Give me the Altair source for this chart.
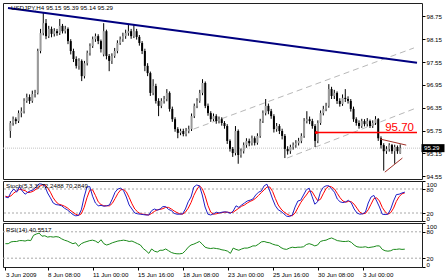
import altair as alt
import pandas as pd

# ---------------- data (USDJPY H4) ----------------
opens = [95.74, 95.95, 96.05, 96.00, 96.21, 96.26, 96.53, 96.63, 96.53, 96.71,
         96.74, 97.84, 98.31, 98.57, 98.23, 98.42, 98.29, 98.36, 98.31, 98.50,
         98.36, 98.42, 98.10, 97.84, 97.63, 97.45, 97.58, 97.18, 97.52, 97.79,
         97.97, 98.15, 98.23, 98.10, 97.75, 98.36, 97.71, 97.58, 97.71, 97.84,
         98.05, 98.15, 98.23, 98.31, 98.36, 98.23, 98.36, 98.21, 98.05, 97.84,
         97.45, 97.26, 96.74, 96.92, 96.53, 96.40, 96.53, 96.58, 96.74, 96.32,
         96.05, 95.79, 95.69, 95.74, 95.66, 95.74, 95.79, 96.13, 96.40, 96.53,
         96.74, 97.00, 96.40, 96.21, 96.05, 96.13, 96.00, 96.05, 95.95, 95.87,
         95.48, 95.27, 95.16, 95.74, 95.11, 95.21, 95.37, 95.48, 95.42, 95.55,
         95.43, 95.61, 96.00, 96.21, 96.40, 96.26, 96.13, 95.79, 95.87, 95.74,
         95.61, 95.27, 95.21, 95.32, 95.37, 95.42, 95.48, 95.61, 96.00, 96.05,
         96.00, 95.87, 95.48, 95.95, 96.21, 96.32, 96.40, 96.84, 96.66, 96.74,
         96.53, 96.45, 96.61, 96.58, 96.53, 96.32, 96.05, 95.95, 95.87, 96.00,
         95.92, 96.00, 95.87, 95.95, 96.05, 95.55, 95.37, 95.21, 95.27, 95.37,
         95.21, 95.32, 95.15]
highs = [96.00, 96.12, 96.10, 96.28, 96.36, 96.60, 96.72, 96.70, 96.80, 96.82,
         97.90, 98.42, 98.84, 98.68, 98.50, 98.48, 98.44, 98.42, 98.68, 98.55,
         98.50, 98.46, 98.15, 97.90, 97.70, 97.65, 97.62, 97.58, 97.85, 98.04,
         98.22, 98.30, 98.28, 98.14, 98.57, 98.40, 97.76, 97.78, 97.92, 98.12,
         98.22, 98.32, 98.40, 98.55, 98.42, 98.52, 98.42, 98.26, 98.10, 97.90,
         97.52, 97.30, 97.10, 96.98, 96.60, 96.60, 96.66, 96.84, 96.78, 96.38,
         96.10, 95.84, 95.80, 95.80, 95.82, 95.88, 96.20, 96.46, 96.60, 96.82,
         97.10, 97.04, 96.46, 96.26, 96.20, 96.18, 96.12, 96.10, 96.00, 95.92,
         95.52, 95.32, 95.87, 95.78, 95.28, 95.44, 95.55, 95.54, 95.62, 95.60,
         95.68, 96.06, 96.28, 96.58, 96.46, 96.32, 96.18, 95.95, 95.92, 95.80,
         95.66, 95.34, 95.38, 95.44, 95.50, 95.56, 95.68, 96.08, 96.26, 96.12,
         96.06, 95.92, 96.02, 96.28, 96.40, 96.48, 96.97, 96.90, 96.82, 96.78,
         96.60, 96.70, 96.84, 96.65, 96.58, 96.38, 96.10, 96.02, 96.06, 96.05,
         96.08, 96.04, 96.02, 96.13, 96.08, 95.60, 95.42, 95.34, 95.42, 95.40,
         95.38, 95.36, 95.39]
lows = [95.56, 95.88, 95.92, 95.95, 96.10, 96.20, 96.48, 96.45, 96.48, 96.62,
        96.70, 97.78, 98.25, 98.15, 98.18, 98.20, 98.22, 98.24, 98.26, 98.30,
        98.30, 98.02, 97.75, 97.55, 97.38, 97.35, 97.05, 97.12, 97.46, 97.72,
        97.92, 98.08, 98.02, 97.80, 97.70, 97.62, 97.31, 97.50, 97.66, 97.78,
        98.00, 98.08, 98.16, 98.24, 98.16, 98.18, 98.14, 97.98, 97.76, 97.31,
        97.18, 96.66, 96.68, 96.46, 96.13, 96.34, 96.46, 96.52, 96.25, 95.98,
        95.72, 95.55, 95.63, 95.60, 95.60, 95.68, 95.74, 96.08, 96.34, 96.48,
        96.68, 96.34, 96.14, 95.98, 96.00, 95.93, 95.94, 95.88, 95.80, 95.40,
        95.20, 95.06, 95.10, 94.88, 95.04, 95.15, 95.30, 95.34, 95.36, 95.36,
        95.38, 95.56, 95.95, 96.15, 96.18, 96.06, 95.70, 95.72, 95.66, 95.52,
        95.03, 95.12, 95.14, 95.25, 95.30, 95.36, 95.42, 95.56, 95.94, 95.92,
        95.80, 95.32, 95.42, 95.90, 96.15, 96.26, 96.35, 96.58, 96.58, 96.45,
        96.38, 96.40, 96.50, 96.46, 96.25, 95.98, 95.88, 95.80, 95.82, 95.86,
        95.86, 95.82, 95.82, 95.90, 95.48, 95.28, 94.70, 95.14, 95.20, 95.14,
        94.88, 95.14, 95.14]
closes = [95.95, 96.05, 96.00, 96.21, 96.26, 96.53, 96.63, 96.53, 96.71, 96.74,
          97.84, 98.31, 98.57, 98.23, 98.42, 98.29, 98.36, 98.31, 98.50, 98.36,
          98.42, 98.10, 97.84, 97.63, 97.45, 97.58, 97.18, 97.52, 97.79, 97.97,
          98.15, 98.23, 98.10, 97.89, 98.36, 97.71, 97.58, 97.71, 97.84, 98.05,
          98.15, 98.23, 98.31, 98.36, 98.23, 98.36, 98.21, 98.05, 97.84, 97.45,
          97.26, 96.74, 96.92, 96.53, 96.40, 96.53, 96.58, 96.74, 96.32, 96.05,
          95.79, 95.69, 95.74, 95.66, 95.74, 95.79, 96.13, 96.40, 96.53, 96.74,
          97.00, 96.40, 96.21, 96.05, 96.13, 96.00, 96.05, 95.95, 95.87, 95.48,
          95.27, 95.16, 95.74, 95.11, 95.21, 95.37, 95.48, 95.42, 95.55, 95.43,
          95.61, 96.00, 96.21, 96.40, 96.26, 96.13, 95.79, 95.87, 95.74, 95.61,
          95.27, 95.21, 95.32, 95.37, 95.42, 95.48, 95.61, 96.00, 96.05, 96.00,
          95.87, 95.48, 95.95, 96.21, 96.32, 96.40, 96.84, 96.66, 96.74, 96.53,
          96.45, 96.61, 96.58, 96.53, 96.32, 96.05, 95.95, 95.87, 96.00, 95.92,
          96.00, 95.87, 95.95, 96.05, 95.55, 95.37, 95.21, 95.27, 95.37, 95.21,
          95.32, 95.21, 95.29]

stoch_k = [60, 58, 72, 80, 72, 86, 75, 67, 72, 76, 78, 86, 93, 92, 88, 70, 58, 45, 41, 40,
           38, 32, 28, 22, 16, 13, 14, 28, 60, 85, 86, 62, 45, 38, 39, 37, 38, 40, 55, 72,
           80, 82, 76, 60, 40, 30, 20, 18, 17, 16, 15, 15, 26, 30, 27, 30, 36, 36, 29, 26,
           19, 17, 17, 18, 30, 48, 60, 85, 90, 88, 65, 35, 17, 15, 18, 22, 20, 22, 23, 22,
           19, 25, 38, 34, 40, 45, 50, 52, 55, 65, 72, 75, 88, 92, 75, 55, 38, 28, 24, 18,
           12, 11, 15, 35, 50, 52, 65, 78, 82, 62, 42, 48, 72, 84, 88, 88, 80, 72, 55, 48,
           46, 48, 52, 45, 30, 20, 17, 18, 22, 45, 60, 64, 50, 35, 17, 16, 17, 30, 50, 66,
           67, 70, 72.2488]
stoch_d = [62, 60, 63, 70, 75, 79, 78, 76, 71, 72, 75, 80, 86, 90, 91, 83, 72, 58, 48, 42,
           40, 37, 33, 27, 22, 17, 14, 18, 34, 58, 77, 78, 64, 48, 41, 38, 38, 38, 44, 56,
           69, 78, 79, 73, 59, 43, 30, 23, 18, 17, 16, 15, 19, 24, 28, 29, 31, 34, 34, 30,
           25, 21, 18, 17, 22, 32, 46, 64, 78, 88, 81, 63, 39, 22, 17, 18, 20, 21, 22, 22,
           21, 22, 27, 32, 37, 40, 45, 49, 52, 57, 64, 71, 78, 85, 85, 74, 56, 40, 30, 23,
           18, 14, 13, 20, 33, 46, 56, 65, 75, 74, 62, 51, 54, 68, 81, 87, 85, 80, 69, 58,
           50, 47, 49, 48, 42, 32, 22, 18, 19, 28, 42, 56, 58, 50, 34, 23, 17, 21, 32, 49,
           61, 68, 70.2849]
rsi14 = [53, 53, 57, 58, 58, 60, 60, 59, 61, 60, 72, 75, 77, 70, 71, 68, 69, 68, 69, 68,
         64, 61, 59, 56, 53, 55, 47, 53, 56, 58, 60, 61, 59, 55, 62, 53, 50, 52, 55, 57,
         59, 60, 61, 60, 58, 59, 56, 53, 50, 42, 37, 31, 41, 36, 34, 38, 38, 41, 37, 33,
         31, 30, 30, 31, 37, 45, 50, 52, 55, 58, 52, 45, 43, 42, 43, 42, 41, 39, 38, 36,
         31, 43, 40, 38, 41, 43, 43, 45, 48, 48, 52, 57, 58, 56, 55, 52, 50, 49, 44, 41,
         40, 43, 45, 44, 45, 45, 46, 51, 53, 51, 48, 50, 58, 60, 61, 64, 66, 63, 60, 59,
         58, 58, 59, 56, 50, 46, 45, 45, 46, 44, 45, 46, 48, 48, 40, 37, 36, 37, 40, 40,
         41, 40, 40.5517]

x_tick_bars = [0, 15, 31, 47, 63, 79, 95, 111, 127]
x_tick_labels = ["3 Jun 2009", "8 Jun 08:00", "11 Jun 00:00", "15 Jun 16:00", "18 Jun 08:00",
                 "23 Jun 00:00", "25 Jun 16:00", "30 Jun 08:00", "3 Jul 00:00"]
price_ticks = [98.75, 98.15, 97.55, 96.95, 96.35, 95.75, 95.15, 94.55]
osc_ticks = [100, 80, 20, 0]
osc_levels = [80, 20]

trend_bar = [-0.85, 148.12]
trend_price = [98.97, 97.53]
channel_bar = [66.7, 147.0, 100.8, 147.0]
channel_price = [95.79, 97.92, 95.03, 96.32]
channel_id = ["upper", "upper", "lower", "lower"]
tri_bar = [134.6, 144.2, 136.4, 142.8]
tri_price = [95.53, 95.37, 94.66, 95.03]
tri_id = ["top", "top", "bottom", "bottom"]
level_price = 95.70
level_start_bar = 111.5

# ---------------- layout ----------------
W = 419
H_MAIN, H_STO, H_RSI = 176, 40, 44
X_DOM = [-0.85, 148.12]
P_DOM = [94.48, 99.10]
FONT = "Liberation Sans"
FS = 6.2

xs = alt.Scale(domain=X_DOM, nice=False, zero=False)
ps = alt.Scale(domain=P_DOM, nice=False, zero=False)
oscs = alt.Scale(domain=[0, 100], nice=False, zero=False)

price_axis = alt.Axis(orient="right", values=price_ticks, format=".2f", tickSize=3,
                      tickColor="#000000", labelPadding=1, domain=False, grid=False,
                      labelOverlap=False, labelFont=FONT, labelFontSize=FS,
                      labelColor="#000000", title=None)
osc_axis = alt.Axis(orient="right", values=osc_ticks, format="d", tickSize=3,
                    tickColor="#000000", labelPadding=1, domain=False, grid=False,
                    labelFlush=True, labelOverlap=False, labelFont=FONT, labelFontSize=FS,
                    labelColor="#000000", title=None)
label_expr = ("[" + ",".join("'" + s + "'" for s in x_tick_labels) + "][indexof(["
              + ",".join(str(v) for v in x_tick_bars) + "], datum.value)]")
time_axis = alt.Axis(values=x_tick_bars, labelExpr=label_expr, labelAlign="left",
                     labelFlush=False, labelOverlap=False, tickSize=3, tickColor="#000000",
                     labelPadding=1, domain=False, grid=False, labelFont=FONT,
                     labelFontSize=FS, labelColor="#000000", title=None)


def X(f, axis=None):
    return alt.X(f, type="quantitative", scale=xs, axis=axis)


def P(f):
    return alt.Y(f, type="quantitative", scale=ps, axis=price_axis)


def O(f):
    return alt.Y(f, type="quantitative", scale=oscs, axis=osc_axis)


n = len(closes)
candles = pd.DataFrame({"i": list(range(n)), "o": opens, "h": highs, "l": lows, "c": closes})
bid = closes[-1]

bid_line = alt.Chart(pd.DataFrame({"p": [bid]})).mark_rule(
    color="#c4c4c4", strokeDash=[1, 1], strokeWidth=1).encode(y=P("p"))
wicks = alt.Chart(candles).mark_rule(color="#000000", strokeWidth=1).encode(
    x=X("i"), y=P("l"), y2="h")
bodies = alt.Chart(candles).mark_bar(size=2).encode(
    x=X("i"), y=P("o"), y2="c",
    color=alt.condition("datum.c >= datum.o", alt.value("#9a9a9a"), alt.value("#000000")))
channel = alt.Chart(pd.DataFrame({"i": channel_bar, "p": channel_price, "g": channel_id})).mark_line(
    color="#b8b8b8", strokeDash=[6, 4], strokeWidth=1).encode(x=X("i"), y=P("p"), detail="g:N")
trend = alt.Chart(pd.DataFrame({"i": trend_bar, "p": trend_price})).mark_line(
    color="#000080", strokeWidth=2, clip=True).encode(x=X("i"), y=P("p"))
lvl_df = pd.DataFrame({"i": [level_start_bar], "i2": [X_DOM[1]], "p": [level_price],
                       "t": [f"{level_price:.2f}"]})
level = alt.Chart(lvl_df).mark_rule(color="#ff0000", strokeWidth=1.5).encode(
    x=X("i"), x2="i2", y=P("p"))
level_dot = alt.Chart(lvl_df).mark_point(filled=True, color="#ff0000", size=10, opacity=1).encode(
    x=X("i"), y=P("p"))
level_txt = alt.Chart(lvl_df).mark_text(color="#ff0000", font=FONT, fontSize=11.5, align="right",
                                        baseline="alphabetic", dx=-3, dy=-2).encode(
    x=X("i2"), y=P("p"), text="t:N")
tri = alt.Chart(pd.DataFrame({"i": tri_bar, "p": tri_price, "g": tri_id})).mark_line(
    color="#a03028", strokeWidth=1).encode(x=X("i"), y=P("p"), detail="g:N")
title_df = pd.DataFrame({"i": [X_DOM[0]], "p": [P_DOM[1]],
                         "t": [f"USDJPY,H4  {opens[-1]:.2f} {highs[-1]:.2f} {lows[-1]:.2f} {closes[-1]:.2f}"]})
title_txt = alt.Chart(title_df).mark_text(font=FONT, fontSize=FS, align="left", baseline="top",
                                          dx=3, dy=2, color="#000000").encode(
    x=X("i"), y=P("p"), text="t:N")
tag_df = pd.DataFrame({"p": [bid], "t": [f"{bid:.2f}"]})
tag_box = alt.Chart(tag_df).mark_tick(orient="horizontal", color="#000000", size=23,
                                      thickness=8, opacity=1).encode(
    y=P("p"), x=alt.value(W + 11))
tag_txt = alt.Chart(tag_df).mark_text(font=FONT, fontSize=FS, align="left", baseline="middle",
                                      color="#ffffff").encode(
    y=P("p"), x=alt.value(W + 2), text="t:N")

main = alt.layer(bid_line, channel, wicks, bodies, trend, level, level_dot, level_txt, tri,
                 title_txt, tag_box, tag_txt).properties(width=W, height=H_MAIN)

osc = pd.DataFrame({"i": list(range(n)), "k": stoch_k, "d": stoch_d, "r": rsi14})
lv = pd.DataFrame({"v": osc_levels})

sto_levels = alt.Chart(lv).mark_rule(color="#a8a8a8", strokeDash=[2, 2]).encode(y=O("v"))
sto_d = alt.Chart(osc).mark_line(color="#ff0000", strokeWidth=1).encode(x=X("i"), y=O("d"))
sto_k = alt.Chart(osc).mark_line(color="#2020c8", strokeWidth=1).encode(x=X("i"), y=O("k"))
sto_lbl = alt.Chart(pd.DataFrame({"i": [X_DOM[0]], "v": [100],
                                  "t": [f"Stoch(5,3,3) {stoch_k[-1]:.4f} {stoch_d[-1]:.4f}"]})).mark_text(
    font=FONT, fontSize=FS, align="left", baseline="top", dx=3, dy=1.5, color="#000000").encode(
    x=X("i"), y=O("v"), text="t:N")
stoch = alt.layer(sto_levels, sto_d, sto_k, sto_lbl).properties(width=W, height=H_STO)

rsi_levels = alt.Chart(lv).mark_rule(color="#a8a8a8", strokeDash=[2, 2]).encode(
    y=O("v"), x=alt.X(datum=X_DOM[0], scale=xs, axis=time_axis),
    x2=alt.X2(datum=X_DOM[1]))
rsi_line = alt.Chart(osc).mark_line(color="#1a8a1a", strokeWidth=1).encode(
    x=X("i", axis=time_axis), y=O("r"))
rsi_lbl = alt.Chart(pd.DataFrame({"i": [X_DOM[0]], "v": [100],
                                  "t": [f"RSI(14) {rsi14[-1]:.4f}"]})).mark_text(
    font=FONT, fontSize=FS, align="left", baseline="top", dx=3, dy=4, color="#000000").encode(
    x=X("i", axis=time_axis), y=O("v"), text="t:N")
rsi = alt.layer(rsi_levels, rsi_line, rsi_lbl).properties(width=W, height=H_RSI)

chart = alt.vconcat(main, stoch, rsi, spacing=2, bounds="flush").properties(
    padding={"left": 2, "top": 2, "right": 0, "bottom": 0},
    background="#ffffff"
).configure_view(stroke="#202020", strokeWidth=1)

chart.save("out.html", embed_options={"renderer": "svg", "actions": False})
